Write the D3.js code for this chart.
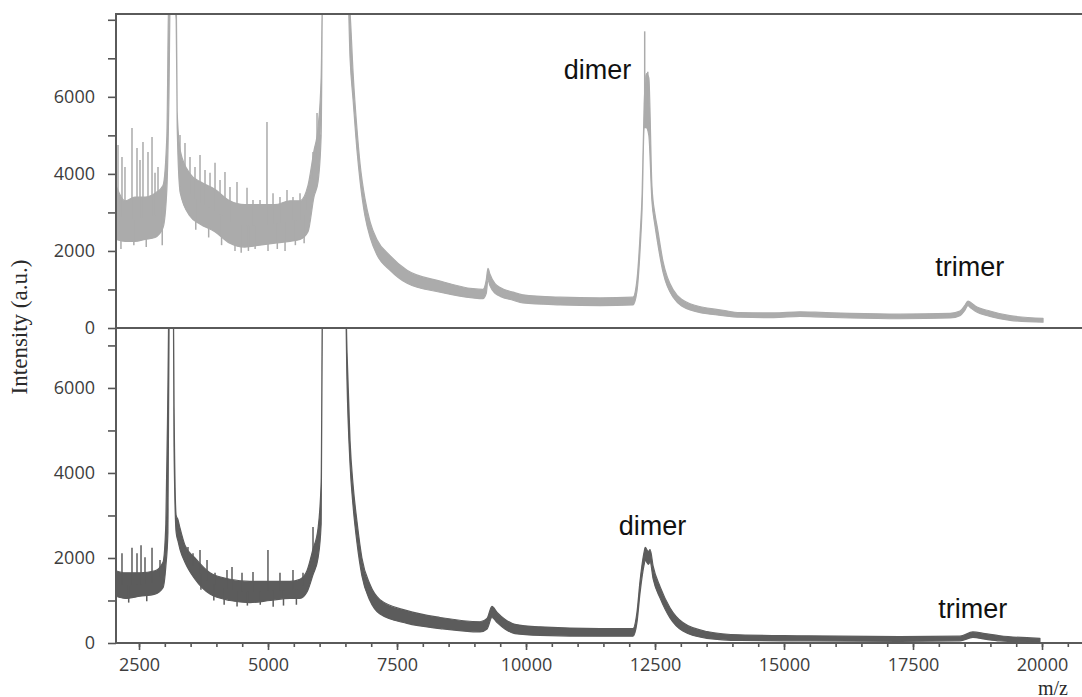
<!DOCTYPE html>
<html>
<head>
<meta charset="utf-8">
<script src="https://cdn.jsdelivr.net/npm/d3@7"></script>
<style>
  body { margin: 0; background: #fff; }
  svg { display: block; }
</style>
</head>
<body>
<svg id="chart" width="1082" height="697"></svg>
<script>
// upper spectrum (light grey): m/z grid with lower / upper edge of the noise band
const topMz = [2054, 2230, 2420, 2620, 2810, 2965, 3040, 3080, 3110, 3220, 3240, 3300, 3490, 3680, 3970, 4260, 4550, 4840, 5135, 5425, 5620, 5775, 5890, 5970, 6030, 6060, 6540, 6590, 6650, 6725, 6785, 6880, 6980, 7110, 7365, 7695, 8335, 8970, 9165, 9230, 9263, 9300, 9400, 9500, 9750, 9940, 10660, 11435, 12073, 12150, 12210, 12250, 12290, 12330, 12380, 12440, 12500, 12540, 12655, 12850, 13180, 13820, 14150, 14800, 15310, 15600, 16280, 17250, 18220, 18410, 18500, 18565, 18620, 18700, 18990, 19380, 20020];
const topLo = [2300, 2250, 2250, 2300, 2350, 2600, 3600, 6000, 9000, 8000, 5200, 3500, 2900, 2700, 2500, 2200, 2100, 2150, 2200, 2250, 2300, 2500, 3400, 3800, 5000, 9000, 9000, 7000, 5900, 4600, 3800, 2900, 2350, 1900, 1500, 1160, 930, 780, 760, 900, 1250, 1100, 900, 820, 720, 650, 600, 580, 600, 950, 2000, 3100, 5200, 5200, 5000, 3300, 2650, 2300, 1450, 800, 470, 320, 280, 270, 300, 290, 260, 240, 260, 320, 450, 580, 520, 440, 300, 200, 150];
const topHi = [3700, 3300, 3400, 3400, 3500, 3700, 5000, 9000, 9000, 9000, 5600, 4600, 4000, 3800, 3600, 3300, 3200, 3200, 3200, 3300, 3300, 3700, 4600, 5200, 6500, 9000, 9000, 8200, 6600, 5150, 4250, 3350, 2750, 2300, 1880, 1500, 1220, 1020, 1000, 1250, 1550, 1400, 1150, 1050, 930, 860, 800, 780, 800, 1250, 2400, 3500, 5800, 6600, 6500, 3700, 2950, 2650, 1730, 1000, 630, 460, 400, 390, 420, 410, 380, 360, 380, 440, 580, 700, 660, 580, 440, 320, 250];
// single noise spikes and dips [m/z, intensity]
const topSpikes = [[2093, 4750], [2170, 4440], [2228, 4180], [2364, 5190], [2461, 4670], [2519, 4360], [2577, 4830], [2674, 4570], [2752, 4960], [2810, 4030], [2868, 4180], [3294, 5010], [3391, 4800], [3488, 4440], [3585, 4180], [3682, 4490], [3779, 4100], [3876, 4030], [3973, 4290], [4070, 3840], [4166, 4050], [4263, 3660], [4399, 3790], [4593, 3640], [4709, 3320], [4845, 3320], [4980, 5350], [5097, 3500], [5232, 3400], [5368, 3580], [5484, 3400], [5620, 3500], [5756, 3400], [5872, 4570], [5950, 5580], [5988, 5220], [12300, 7700], [12360, 6650],
  [2150, 2050], [2400, 2150], [2640, 2100], [2950, 2150], [3600, 2550], [3850, 2350], [4100, 2150], [4360, 2000], [4480, 1950], [4620, 2000], [4750, 2050], [5000, 2000], [5180, 2050], [5330, 2000], [5530, 2150], [5700, 2200]];

// lower spectrum (dark grey)
const botMz = [2054, 2230, 2520, 2810, 2965, 3020, 3060, 3090, 3160, 3180, 3220, 3255, 3295, 3390, 3585, 3875, 4265, 4650, 5040, 5425, 5620, 5755, 5870, 5970, 6030, 6060, 6490, 6530, 6590, 6650, 6725, 6820, 6975, 7170, 7695, 8335, 9110, 9245, 9340, 9440, 9590, 9785, 10270, 11435, 12073, 12150, 12210, 12290, 12310, 12370, 12405, 12465, 12600, 12790, 13040, 13505, 14150, 15310, 17250, 18410, 18660, 18895, 19185, 19960];
const botLo = [1100, 1050, 1100, 1150, 1300, 1800, 2600, 9000, 9000, 4500, 2600, 2400, 2200, 1900, 1500, 1150, 1000, 950, 1000, 1050, 1050, 1200, 1600, 2000, 2800, 9000, 9000, 6200, 4200, 3200, 2350, 1580, 1000, 680, 460, 340, 260, 330, 600, 480, 330, 220, 180, 160, 160, 480, 1180, 1850, 1950, 1850, 1900, 1500, 1050, 590, 280, 110, 60, 50, 40, 50, 130, 90, 50, 20];
const botHi = [1700, 1650, 1650, 1700, 1900, 2800, 6000, 9000, 9000, 5500, 3000, 2900, 2700, 2300, 2000, 1650, 1500, 1450, 1450, 1450, 1500, 1700, 2200, 2700, 3800, 9000, 9000, 6900, 4750, 3700, 2850, 2000, 1380, 1020, 760, 600, 500, 580, 860, 720, 560, 440, 380, 340, 340, 720, 1460, 2150, 2250, 2150, 2200, 1800, 1320, 830, 480, 270, 190, 170, 150, 160, 260, 220, 170, 110];
const botSpikes = [[2170, 2110], [2364, 2240], [2461, 2110], [2539, 2300], [2616, 2020], [2752, 2240], [2907, 1950], [3333, 2420], [3449, 2260], [3546, 2110], [3682, 2190], [3818, 1950], [3973, 1650], [4205, 1720], [4302, 1790], [4496, 1650], [4709, 1670], [4999, 2190], [5232, 1650], [5484, 1720], [5678, 1650], [5872, 2730], [5969, 2590],
  [2300, 950], [2650, 980], [3700, 1250], [3950, 1000], [4150, 900], [4400, 860], [4600, 880], [4850, 900], [5100, 850], [5300, 880], [5550, 900]];

const xMajor = d3.range(2500, 20001, 2500);
const xMinor = d3.range(2500, 20501, 500);
const topTicks = d3.range(0, 8001, 1000);
const botTicks = d3.range(0, 7001, 1000);
const yLabels = [0, 2000, 4000, 6000];

const labels = [
  { text: 'dimer', mz: 11385, panel: 'top', v: 6450 },
  { text: 'trimer', mz: 18600, panel: 'top', v: 1350 },
  { text: 'dimer', mz: 12450, panel: 'bot', v: 2530 },
  { text: 'trimer', mz: 18660, panel: 'bot', v: 590 }
];

const svg = d3.select('#chart');
const plotLeft = 116, plotRight = 1082, plotTop = 14, plotMid = 328, plotBottom = 643;

const x = d3.scaleLinear().domain([2054, 20775]).range([plotLeft, plotRight]);
const yTop = d3.scaleLinear().domain([0, 8150]).range([plotMid, plotTop]);
const yBot = d3.scaleLinear().domain([0, 7410]).range([plotBottom, plotMid]);

const defs = svg.append('defs');
defs.append('clipPath').attr('id', 'clip-top')
  .append('rect').attr('x', plotLeft).attr('y', plotTop)
  .attr('width', plotRight - plotLeft).attr('height', plotMid - plotTop);
defs.append('clipPath').attr('id', 'clip-bot')
  .append('rect').attr('x', plotLeft).attr('y', plotMid)
  .attr('width', plotRight - plotLeft).attr('height', plotBottom - plotMid);

function drawTrace(mz, lo, hi, spikes, y, color, clip) {
  let rows = mz.map((m, i) => ({ mz: m, lo: lo[i], hi: hi[i] }));
  let g = svg.append('g').attr('clip-path', `url(#${clip})`);

  let area = d3.area()
    .curve(d3.curveMonotoneX)
    .x(d => x(d.mz))
    .y0(d => y(d.lo))
    .y1(d => y(d.hi));

  g.append('path')
    .datum(rows)
    .attr('d', area)
    .attr('fill', color)
    .attr('stroke', color)
    .attr('stroke-width', 1.2)
    .attr('stroke-linejoin', 'round');

  // middle of the band under each spike
  let mid = d3.scaleLinear().domain(mz).range(mz.map((m, i) => (lo[i] + hi[i]) / 2));

  g.selectAll('line.spike')
    .data(spikes)
    .enter()
    .append('line')
      .attr('class', 'spike')
      .attr('x1', d => x(d[0]))
      .attr('x2', d => x(d[0]))
      .attr('y1', d => y(mid(d[0])))
      .attr('y2', d => y(d[1]))
      .attr('stroke', color)
      .attr('stroke-width', 1.5);
}

drawTrace(topMz, topLo, topHi, topSpikes, yTop, '#ababab', 'clip-top');
drawTrace(botMz, botLo, botHi, botSpikes, yBot, '#5c5c5c', 'clip-bot');

// axes
const axisColor = '#555';
const tickFont = '"Open Sans", sans-serif';

function styleAxis(g) {
  g.selectAll('path').remove();
  g.selectAll('.tick line').attr('stroke', axisColor).attr('stroke-width', 1.6);
  g.selectAll('.tick text')
    .attr('fill', '#3d3d3d')
    .style('font-family', tickFont)
    .style('font-size', '18px');
}

svg.append('g')
  .attr('transform', `translate(${plotLeft},0)`)
  .call(d3.axisLeft(yTop).tickValues(topTicks).tickSize(8).tickPadding(13)
    .tickFormat(d => yLabels.includes(d) ? d : ''))
  .call(styleAxis);

svg.append('g')
  .attr('transform', `translate(${plotLeft},0)`)
  .call(d3.axisLeft(yBot).tickValues(botTicks).tickSize(8).tickPadding(13)
    .tickFormat(d => yLabels.includes(d) && d > 0 ? d : ''))
  .call(styleAxis);

svg.append('g')
  .attr('transform', `translate(0,${plotBottom})`)
  .call(d3.axisBottom(x).tickValues(xMinor).tickSize(4).tickFormat(''))
  .call(styleAxis);

svg.append('g')
  .attr('transform', `translate(0,${plotBottom})`)
  .call(d3.axisBottom(x).tickValues(xMajor).tickSize(7).tickPadding(8).tickFormat(d3.format('d')))
  .call(styleAxis);

// bottom "0" label
svg.append('text')
  .attr('x', plotLeft - 21)
  .attr('y', yBot(0))
  .attr('dy', '0.32em')
  .attr('text-anchor', 'end')
  .attr('fill', '#3d3d3d')
  .style('font-family', tickFont)
  .style('font-size', '18px')
  .text('0');

// frame
const frame = svg.append('g')
  .attr('stroke', '#5a5a5a')
  .attr('stroke-width', 2)
  .attr('fill', 'none');
[plotTop, plotMid, plotBottom].forEach(yy => {
  frame.append('line').attr('x1', plotLeft).attr('x2', plotRight).attr('y1', yy).attr('y2', yy);
});
frame.append('line').attr('x1', plotLeft).attr('x2', plotLeft)
  .attr('y1', plotTop - 1).attr('y2', plotBottom + 1);

// peak annotations
svg.selectAll('text.note')
  .data(labels)
  .enter()
  .append('text')
    .attr('class', 'note')
    .attr('x', d => x(d.mz))
    .attr('y', d => (d.panel === 'top' ? yTop : yBot)(d.v))
    .attr('text-anchor', 'middle')
    .attr('fill', '#111')
    .style('font-family', '"Liberation Sans", Arial, sans-serif')
    .style('font-size', '27px')
    .text(d => d.text);

// axis titles
svg.append('text')
  .attr('transform', 'translate(27,327) rotate(-90)')
  .attr('text-anchor', 'middle')
  .attr('fill', '#2a2a2a')
  .style('font-family', '"Liberation Serif", "Times New Roman", serif')
  .style('font-size', '23px')
  .text('Intensity (a.u.)');

svg.append('text')
  .attr('x', 1053)
  .attr('y', 694.5)
  .attr('text-anchor', 'middle')
  .attr('fill', '#2a2a2a')
  .style('font-family', '"Liberation Serif", "Times New Roman", serif')
  .style('font-size', '20px')
  .text('m/z');
</script>
</body>
</html>
